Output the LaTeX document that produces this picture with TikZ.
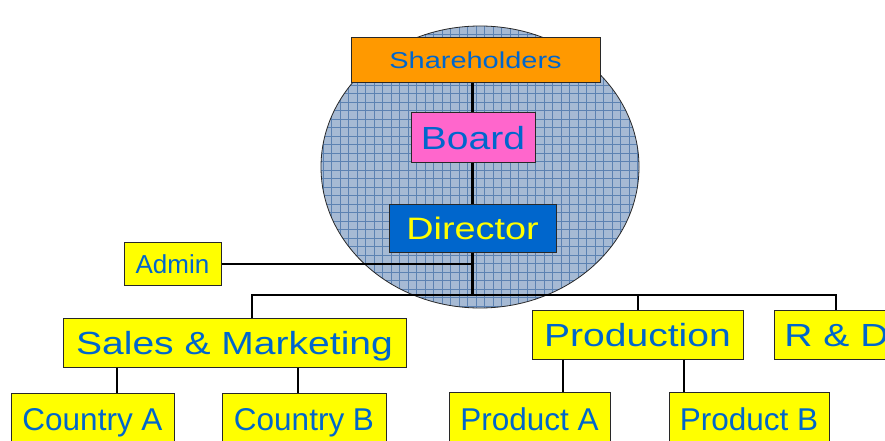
\documentclass[tikz,border=0pt]{standalone}
\usepackage{fontspec}
\setmainfont{Liberation Sans}
\newfontfamily\widefont[FakeStretch=1.22]{Liberation Sans}
\newfontfamily\widerfont[FakeStretch=1.26]{Liberation Sans}
\definecolor{txtblue}{RGB}{0,102,204}
\definecolor{boxyellow}{RGB}{255,255,0}
\definecolor{shorange}{RGB}{255,153,0}
\definecolor{bdpink}{RGB}{255,102,204}
\definecolor{dirblue}{RGB}{0,102,204}
\definecolor{globefill}{RGB}{166,186,212}
\definecolor{globegrid}{RGB}{92,130,178}
\definecolor{edge}{RGB}{40,40,40}
\tikzset{
  orgbox/.style={draw=edge, line width=1pt, inner sep=0pt, text depth=0pt, align=center},
  widebox/.style={orgbox, font=\widefont\fontsize{32}{36}\selectfont, text height=23pt},
  plainbox/.style={orgbox, font=\fontsize{31.5}{36}\selectfont, text height=23pt},
  mainline/.style={line width=3pt},
  linkline/.style={line width=2pt},
}
\begin{document}
\begin{tikzpicture}[x=1pt,y=-1pt]
\useasboundingbox (0,0) rectangle (885,441);
% globe
\begin{scope}
  \clip (480,167) ellipse [x radius=159, y radius=141];
  \fill[globefill] (300,0) rectangle (660,330);
  \draw[globegrid, line width=0.8pt] (300,0) grid[step=8.5pt] (660,330);
\end{scope}
\draw[edge, line width=0.8pt] (480,167) ellipse [x radius=159, y radius=141];
% nodes
\node[orgbox, fill=shorange, text=txtblue, minimum width=249pt, minimum height=45pt,
      font=\widerfont\fontsize{23}{26}\selectfont, text height=17pt] (sh) at (475.5,60.5) {Shareholders};
\node[widebox, fill=bdpink, text=txtblue, minimum width=124pt, minimum height=49pt] (board) at (473,137.5) {Board};
\node[widebox, fill=dirblue, text=boxyellow, minimum width=167pt, minimum height=48pt,
      font=\widefont\fontsize{31}{36}\selectfont, text height=22pt] (dir) at (472.5,228) {Director};
\node[orgbox, fill=boxyellow, text=txtblue, minimum width=97pt, minimum height=43pt,
      font=\fontsize{26}{30}\selectfont, text height=19pt] (admin) at (172.5,263.5) {Admin};
\node[widebox, fill=boxyellow, text=txtblue, minimum width=343pt, minimum height=49pt] (sales) at (234.5,342.5) {Sales \& Marketing};
\node[widebox, fill=boxyellow, text=txtblue, minimum width=211pt, minimum height=49pt] (prod) at (637.5,334.5) {Production};
\node[widebox, fill=boxyellow, text=txtblue, minimum width=125pt, minimum height=49pt] (rd) at (836.5,334.5) {R \& D};
\node[plainbox, fill=boxyellow, text=txtblue, minimum width=163pt, minimum height=52pt] (ca) at (92.5,419) {Country A};
\node[plainbox, fill=boxyellow, text=txtblue, minimum width=164pt, minimum height=52pt] (cb) at (304,419) {Country B};
\node[plainbox, fill=boxyellow, text=txtblue, minimum width=161pt, minimum height=52pt] (pa) at (529.5,418.5) {Product A};
\node[plainbox, fill=boxyellow, text=txtblue, minimum width=160pt, minimum height=52pt] (pb) at (749,418.5) {Product B};
% coordinates
\coordinate (busmid) at (472,295);
\coordinate (busL) at (252,295);
\coordinate (busR) at (836,295);
\coordinate (sa1) at (117,0);
\coordinate (sa2) at (298,0);
\coordinate (pr1) at (563,0);
\coordinate (pr2) at (684,0);
% connectors
\draw[mainline] (sh.south -| busmid) -- (board.north -| busmid);
\draw[mainline] (board.south -| busmid) -- (dir.north -| busmid);
\draw[mainline] (dir.south -| busmid) -- (busmid);
\draw[linkline] (admin.east) -- (admin.east -| busmid);
\draw[linkline] (sales.north -| busL) -- (busL) -- (busR) -- (rd.north -| busR);
\draw[linkline] (prod.north) -- (prod.north |- busL);
\draw[linkline] (sales.south -| sa1) -- (ca.north -| sa1);
\draw[linkline] (sales.south -| sa2) -- (cb.north -| sa2);
\draw[linkline] (prod.south -| pr1) -- (pa.north -| pr1);
\draw[linkline] (prod.south -| pr2) -- (pb.north -| pr2);
\end{tikzpicture}
\end{document}
